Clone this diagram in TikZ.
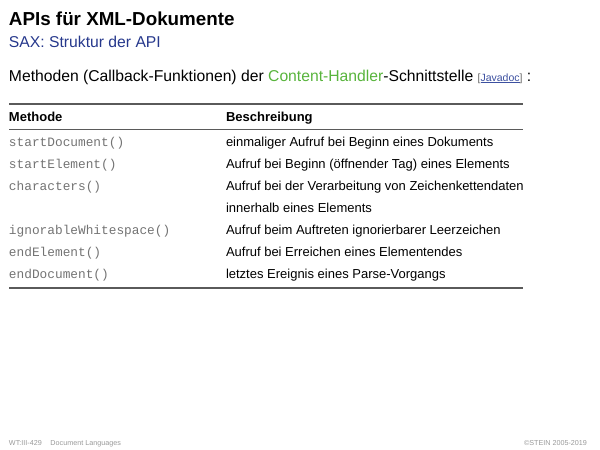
\documentclass[tikz,border=0pt]{standalone}
\usepackage{fontspec}
\setmainfont{Liberation Sans}
\setmonofont{Liberation Mono}
\usetikzlibrary{positioning}

\definecolor{subblue}{RGB}{38,56,140}
\definecolor{handlergreen}{RGB}{88,180,60}
\definecolor{linkblue}{RGB}{60,80,160}
\definecolor{rulegray}{RGB}{90,90,90}

\tikzset{
  txt/.style={anchor=base west, inner sep=0pt, outer sep=0pt},
  head/.style={txt, font=\fontsize{13}{15}\selectfont\bfseries},
  meth/.style={txt, font=\fontsize{12.8}{14}\ttfamily, text=black!55},
  desc/.style={txt, font=\fontsize{13}{15}\selectfont},
  foot/.style={txt, font=\fontsize{7.2}{8}\selectfont, text=black!40},
  tabrule/.style={draw=rulegray, line width=1.3pt}
}

\begin{document}
\begin{tikzpicture}[x=1pt, y=-1pt]
\useasboundingbox (0,0) rectangle (600,450);

\node [txt, font=\fontsize{18.8}{22}\selectfont\bfseries] (title) at (9,25) {APIs für XML-Dokumente};
\node [txt, font=\fontsize{15.7}{18}\selectfont, text=subblue] (subtitle) at (9,47) {SAX: Struktur der API};
\node [txt, font=\fontsize{15.7}{18}\selectfont] (intro) at (9,81)
  {Methoden (Callback-Funktionen) der \textcolor{handlergreen}{Content-Handler}-Schnittstelle
   {\fontsize{10.5}{12}\selectfont\textcolor{black!60}{[}\textcolor{linkblue}{\underline{Javadoc}}\textcolor{black!60}{]}} :};

\coordinate (top west) at (9,104);
\coordinate (top east) at (523,104);
\coordinate (mid west) at (9,129);
\coordinate (mid east) at (523,129);
\coordinate (bot west) at (9,288);
\coordinate (bot east) at (523,288);
\draw [tabrule] (top west) -- (top east);
\draw [tabrule, line width=0.8pt] (mid west) -- (mid east);
\draw [tabrule] (bot west) -- (bot east);

\node [head] (h1) at (9,121) {Methode};
\node [head] (h2) at (226,121) {Beschreibung};

\foreach \m/\d/\y [count=\i] in {
  startDocument()/einmaliger Aufruf bei Beginn eines Dokuments/146,
  startElement()/Aufruf bei Beginn (öffnender Tag) eines Elements/168,
  characters()/Aufruf bei der Verarbeitung von Zeichenkettendaten/190,
  ignorableWhitespace()/Aufruf beim Auftreten ignorierbarer Leerzeichen/234,
  endElement()/Aufruf bei Erreichen eines Elementendes/256,
  endDocument()/letztes Ereignis eines Parse-Vorgangs/278}
{
  \node [meth] (m\i) at (9,\y) {\m};
  \node [desc] (d\i) at (226,\y) {\d};
}
\node [desc] (d3b) at (226,212) {innerhalb eines Elements};

\node [foot] (foot left) at (9,445) {WT:III-429\hspace{1.2em}Document Languages};
\node [foot, anchor=base east] (foot right) at (587,445) {©STEIN 2005-2019};
\end{tikzpicture}
\end{document}
